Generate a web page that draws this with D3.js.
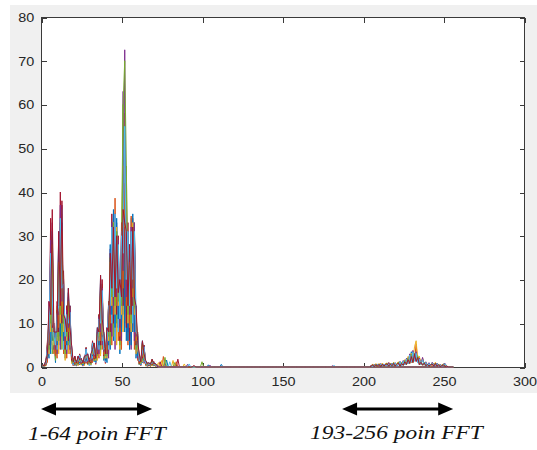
<!DOCTYPE html>
<html>
<head>
<meta charset="utf-8">
<script src="https://cdn.jsdelivr.net/npm/d3@7"></script>
<style>
  html, body { margin: 0; padding: 0; background: #ffffff; }
  svg { display: block; }
</style>
</head>
<body>
<svg id="chart" width="537" height="450"></svg>
<script>
// FFT magnitude of 14 frames, 256 bins each.
const binCount = 256;
const lowStart = 1;    // first bin of the low band arrays
const highStart = 205; // first bin of the high band arrays

// Low band, bins 1..72, one array per frame
const low01 = [0.1,0.4,0.3,4,2,26,6,8,1,12, 5,30,9,20,2,12,4,14,1,1.2, 0.3,1.2,0.4,2.5,0.6,1.2,0.5,3.8,0.7,1.5, 0.4,5,1.2,2.5,2,10,3,17,1.5,4, 1,13,4,32,6,30,9,26,3,28, 12,48,6,30,4,26,8,31,2,7, 0.5,1.8,1,4.5,0.3,0.9,0.2,0.7,0.3,1.1,0.2,0.4];
const low02 = [0.3,0.1,1.2,1,13,4,30,3,7,2, 27,6,35,3,10,2,17,3,4.5,0.3, 2.2,0.2,2.1,0.5,1.8,0.3,2.2,0.8,2.6,0.4, 2.7,1,5,0.6,8,2,18,4,7,0.8, 8,3,25,5,34,8,31,6,18,4, 45,10,40,5,26,7,34,4,12,1.5, 2.5,0.3,5.5,0.8,1.3,0.1,0.9,0.1,1.6,0.2,0.7,0.1];
const low03 = [0.2,0.5,0.2,5,3,20,8,9,2,14, 3,28,7,21,1.5,13,3,12,0.8,1.8, 0.4,1.4,0.3,2.8,0.4,1.4,0.3,4.2,0.5,1.8, 0.5,5.5,1.5,2.8,1.5,11,2.5,19,2,4.5, 2,14,6,30,9,35,5,28,4,25, 8,58,10,31,6,30,12,28,3,7.5, 0.6,1.9,1.2,4.8,0.2,0.8,0.3,0.8,0.2,1.2,0.1,0.5];
const low04 = [0.4,0.2,1.4,2,15,5,33,4,8,3, 30,4,37,5,11,3,16,4,5,0.4, 2.4,0.3,2.4,0.6,1.9,0.2,2.4,1,2.9,0.5, 2.9,1.5,5.3,0.8,8.5,3,20,5,7.5,1, 8.5,2,27,7,33,4,33,9,19,6, 63,15,42,8,27,4,33,6,13,2, 2.8,0.4,5.7,1,1.4,0.2,1,0.2,1.7,0.3,0.8,0.1];
const low05 = [0.1,0.5,0.6,5.5,4,28,3,7,1.5,13, 6,32,4,19,3,14,5,13,1.2,1.9, 0.5,1.5,0.6,2.9,0.5,1.5,0.6,4.4,0.6,1.9, 0.7,5.8,1.4,2.9,2.5,12,4,18,1.8,4.8, 2.5,15,5,33,7,32,10,29,5,30, 60,20,46,12,22,9,27,33,4,8, 0.7,2,1.5,5,0.4,1,0.2,0.8,0.4,1.2,0.2,0.5];
const low06 = [0.3,0.2,1.5,3,14,6,29,5,7.5,4, 28,8,36,4,10,4,17,5,4.8,0.5, 2.3,0.4,2.3,0.7,2,0.4,2.3,1.2,2.8,0.3, 2.8,2,5.4,1,8.8,4,21,6,7.8,1.2, 8.8,4,26,10,35,6,32,8,17,10, 47,55,12,29,8,34,10,30,14,3, 2.9,0.5,5.9,1.2,1.5,0.3,1,0.3,1.8,0.4,0.8,0.2];
const low07 = [0.2,0.6,0.4,6,5,34,9,10,3,15, 8,40,10,22,4,14,6,14,1.5,2, 0.6,1.5,0.8,3,0.7,1.5,0.8,4.5,0.8,2, 0.9,6,1.8,3,3,12,5,20,2.5,5, 3,15,8,35,10,30,12,30,6,33, 14,32,9,33,6,31,14,32,5,8, 0.8,2,2,5,0.5,1,0.3,0.8,0.5,1.2,0.3,0.5];
const low08 = [0.4,0.3,1.3,2.5,12,3,31,6,8,5, 31,7,33,6,9,5,18,6,4,0.8, 2.5,0.5,2.2,0.9,1.7,0.5,2.5,1.5,3,0.7, 3,2.5,5.5,1.2,9,5,19,7,8,1.5, 9,5,28,12,36,9,34,11,20,8, 44,8,38,6,28,5,35,8,14,2.5, 3,0.6,6,1.5,1.4,0.4,0.9,0.3,1.7,0.5,0.7,0.2];
const low09 = [0.2,0.5,0.5,4.5,6,24,12,8,2.5,11, 9,33,12,18,5,12,8,11,2,1.6, 0.8,1.3,1,2.6,0.8,1.3,1,3.9,1,1.7, 1.2,5.2,2,2.7,3.5,10.5,6,18,2.8,4.2, 4,14,10,31,12,38.6,14,27,7,26, 18,42,14,28,9,34.5,16,29,6,7, 1,1.8,2.5,4.4,0.6,0.9,0.4,0.7,0.6,1,0.3,0.4];
const low10 = [0.3,0.4,1.1,3.5,11,8,27,5,6.5,6, 24,10,30,8,9.5,6,15,7,4.2,1, 2.1,0.6,2,1.2,1.6,0.7,2.1,2,2.6,0.8, 2.6,3,5,1.5,7,6,17,8,6.6,2, 8,6,24,14,33,12,32,14,18,12, 46,45,38,10,24,8,33,12,12,4, 2.3,0.8,5.4,2,1.2,0.5,0.9,0.4,1.7,0.6,0.6,0.3];
const low11 = [0.2,0.5,0.7,5,8,29,14,9,4,12, 12,37,15,20,6,13,9,13,2.5,1.8, 1,1.4,1.2,2.7,1,1.4,1.2,4.2,1.2,1.8, 1.5,5.6,2.5,2.8,4,11.5,8,18,3.5,4.6, 5,14,12,33,14,35,16,29,9,31, 22,72.5,16,31,12,32,18,33,7,7.6, 1.2,1.8,3,4.8,0.7,0.9,0.5,0.7,0.8,1.2,0.4,0.5];
const low12 = [0.4,0.2,1.2,3,12,10,28,6,6.2,7, 24,12,31,10,9.5,7,15,8,4,1.1, 2,0.8,2.1,1.4,1.7,0.8,2.2,2.4,2.5,1, 2.6,3.5,5.4,1.8,7.6,7,18,10,6.9,2.5, 8.2,7,25,16,33,14,31,15,17,14, 60,70,46,12,23,10,32,14,12.5,5, 2.5,1,5.3,2.5,1.3,0.6,0.9,0.5,1.6,0.7,0.7,0.3];
const low13 = [0.2,0.5,0.8,4.6,9,26,16,7,5,12, 14,34,18,19,7,12,10,12.5,3,1.7, 1.2,1.3,1.4,2.7,1.2,1.4,1.4,4.1,1.5,1.7, 1.8,5.4,3,2.7,5,11,10,17.5,4,4.5, 6,14,14,32,16,35,18,28,11,30, 26,55,20,31,14,31,20,31,8,7.4, 1.4,1.7,3.5,4.6,0.8,0.9,0.6,0.7,0.9,1.1,0.4,0.4];
const low14 = [0.4,0.3,1.5,3,15,12,36,8,8,8, 31,14,38,12,11,8,18,9,5,1.2, 2.5,0.9,2.5,1.6,2,0.9,2.5,2.6,3,1.1, 3,4,5.5,2,9,8,21,11,8,3, 9,8,26,18,32,16,30,17,20,16, 36,33,31,14,28,12,32,16,14,6, 3,1.2,6,3,1.5,0.7,1,0.6,1.8,0.8,0.8,0.3];

// High band, bins 205..252 (frames 8..14 only)
const high08 = [0.1,0.5,0.1,0.6,0.2,0.7,0.1,0.6,0.2,0.5, 0.8,0.2,0.7,0.1,0.9,0.3,0.6,1.0,0.2,0.9, 0.4,1.4,0.6,2.0,0.9,3.5,1.2,3.0,1.5,2.4, 0.6,1.2,0.5,1.0,0.3,0.6,0.2,0.5,0.8,0.2, 0.9,0.3,0.5,0.1,0.3,0.5,0.1,0.2];
const high09 = [0.4,0.1,0.5,0.2,0.4,0.2,0.6,0.3,0.5,0.2, 0.3,1.0,0.3,0.7,0.2,0.8,0.2,0.5,1.1,0.3, 1.3,0.5,1.8,0.7,2.8,1.0,3.6,1.5,5.2,1.2, 2.2,0.5,2.0,0.4,1.0,0.3,0.9,0.2,0.3,0.8, 0.2,0.8,0.2,0.5,0.1,0.6,0.7,0.1];
const high10 = [0.2,0.7,0.2,0.8,0.3,0.8,0.2,0.9,0.3,0.8, 0.9,0.3,0.9,0.2,1.1,0.4,0.8,1.2,0.3,1.1, 0.5,1.7,0.8,2.4,1.1,3.2,1.4,4.6,6.0,1.6, 2.5,0.6,1.9,0.5,1.1,0.3,0.9,0.2,0.9,0.3, 1.1,0.3,0.7,0.2,0.5,0.7,0.2,0.3];
const high11 = [0.3,0.2,0.6,0.3,0.7,0.2,0.8,0.2,0.7,0.3, 0.4,1.0,0.3,0.9,0.3,1.0,0.2,0.6,1.3,0.4, 1.5,0.6,2.0,0.8,3.0,1.2,3.8,1.6,3.5,1.1, 2.0,0.7,2.2,0.5,1.2,0.3,1.0,0.3,1.1,0.4, 0.3,0.9,0.2,0.6,0.1,0.7,0.8,0.1];
const high12 = [0.1,0.5,0.2,0.6,0.1,0.7,0.3,0.7,0.1,0.7, 0.8,0.2,0.8,0.3,1.0,0.2,0.7,1.1,0.2,1.0, 0.4,1.5,0.5,2.1,0.8,2.9,1.0,3.2,1.4,2.6, 0.6,1.3,0.4,1.1,0.3,0.7,0.2,0.6,0.9,0.3, 0.9,0.2,0.6,0.2,0.4,0.6,0.1,0.2];
const high13 = [0.3,0.1,0.5,0.2,0.6,0.3,0.7,0.2,0.6,0.3, 0.3,0.7,0.2,0.8,0.3,0.9,0.2,0.4,1.2,0.3, 1.3,0.5,1.8,0.7,2.7,1.1,3.5,1.3,3.1,0.9, 1.8,0.5,1.7,0.4,1.0,0.2,0.8,0.3,0.9,0.4, 0.3,0.8,0.2,0.5,0.1,0.6,0.7,0.1];
const high14 = [0.2,0.5,0.1,0.5,0.2,0.6,0.1,0.6,0.2,0.6, 0.7,0.2,0.7,0.3,0.8,0.2,0.6,0.9,0.2,0.8, 0.4,1.2,0.6,1.7,0.8,2.4,1.0,3.0,1.2,2.2, 0.5,1.1,0.4,0.9,0.3,0.6,0.2,0.5,0.7,0.2, 0.8,0.2,0.5,0.1,0.3,0.5,0.1,0.2];

// Small isolated peaks between the bands: [frame, bin, magnitude]
const midPeaks = [
  [2,75,1.5],[1,76,2.4],[4,77,2.2],[0,78,1.6],[6,74,1.2],[9,73,1.0],
  [5,80,1.2],[2,82,1.5],[8,84,1.2],[6,85,1.8],[11,83,1.0],
  [9,89,0.7],[10,91,0.6],[12,92,0.7],[13,95,0.4],[11,100,1.2],
  [0,104,0.5],[3,105,0.4],[7,112,0.6],[3,181,0.3],[5,182,0.4]
];

const xTicks = [0, 50, 100, 150, 200, 250, 300];
const yTicks = [0, 10, 20, 30, 40, 50, 60, 70, 80];
const bandLabels = ["1-64 poin FFT", "193-256 poin FFT"];
const bandSpans = [[0, 69], [187, 256]];

const lowBands = [low01, low02, low03, low04, low05, low06, low07, low08, low09, low10, low11, low12, low13, low14];
const highBands = [null, null, null, null, null, null, null, high08, high09, high10, high11, high12, high13, high14];

// MATLAB default line color order
const lineColors = ["#0072BD", "#D95319", "#EDB120", "#7E2F8E", "#77AC30", "#4DBEEE", "#A2142F"];

// Assemble full 256-bin spectra
const frames = lowBands.map((low, f) => {
  const mags = new Array(binCount).fill(0);
  low.forEach((v, i) => { mags[lowStart - 1 + i] = v; });
  if (highBands[f]) highBands[f].forEach((v, i) => { mags[highStart - 1 + i] = v; });
  midPeaks.filter(p => p[0] === f).forEach(p => { mags[p[1] - 1] = p[2]; });
  return mags.map((v, i) => ({ bin: i + 1, mag: v }));
});

const svg = d3.select("#chart");
const plot = { left: 41, right: 524, top: 17, bottom: 367 };

const x = d3.scaleLinear().domain([0, 300]).range([plot.left, plot.right]);
const y = d3.scaleLinear().domain([0, 80]).range([plot.bottom, plot.top]);

// figure background
svg.append("rect")
  .attr("x", 10).attr("y", 5).attr("width", 527).attr("height", 388)
  .attr("fill", "#f0f0f0");

// axes background
svg.append("rect")
  .attr("x", plot.left).attr("y", plot.top)
  .attr("width", plot.right - plot.left).attr("height", plot.bottom - plot.top)
  .attr("fill", "#ffffff");

const axisColor = "#3a3a3a";
const labelFont = "'Liberation Sans', Arial, Helvetica, sans-serif";

svg.append("rect")
  .attr("x", plot.left + 0.5).attr("y", plot.top + 0.5)
  .attr("width", plot.right - plot.left).attr("height", plot.bottom - plot.top)
  .attr("fill", "none").attr("stroke", axisColor).attr("stroke-width", 1)
  .attr("shape-rendering", "crispEdges");

// inward ticks on all four sides
const tickLen = 5;
function styleAxis(g) {
  g.select(".domain").remove();
  g.selectAll(".tick line").attr("stroke", axisColor).attr("shape-rendering", "crispEdges");
  g.selectAll(".tick text")
    .attr("fill", "#262626")
    .attr("font-family", labelFont)
    .attr("font-size", 12);
}

svg.append("g")
  .attr("transform", `translate(0.5,${plot.bottom + 0.5})`)
  .call(d3.axisBottom(x).tickValues(xTicks).tickSizeInner(-tickLen).tickSizeOuter(0).tickPadding(10).tickFormat(d3.format("d")))
  .call(styleAxis)
  .call(g => g.selectAll(".tick text").attr("transform", "scale(1.2,1)"));

svg.append("g")
  .attr("transform", `translate(0.5,${plot.top + 0.5})`)
  .call(d3.axisTop(x).tickValues(xTicks).tickSizeInner(-tickLen).tickSizeOuter(0).tickFormat(""))
  .call(styleAxis);

svg.append("g")
  .attr("transform", `translate(${plot.left + 0.5},0.5)`)
  .call(d3.axisLeft(y).tickValues(yTicks).tickSizeInner(-tickLen).tickSizeOuter(0).tickPadding(6).tickFormat(d3.format("d")))
  .call(styleAxis)
  .call(g => g.selectAll(".tick text").attr("transform", "scale(1.2,1)"));

svg.append("g")
  .attr("transform", `translate(${plot.right + 0.5},0.5)`)
  .call(d3.axisRight(y).tickValues(yTicks).tickSizeInner(-tickLen).tickSizeOuter(0).tickFormat(""))
  .call(styleAxis);

// spectra
svg.append("clipPath").attr("id", "plotClip")
  .append("rect")
  .attr("x", plot.left).attr("y", plot.top)
  .attr("width", plot.right - plot.left).attr("height", plot.bottom - plot.top + 1.5);

const line = d3.line().x(d => x(d.bin)).y(d => y(d.mag));

svg.append("g").attr("clip-path", "url(#plotClip)")
  .selectAll("path")
  .data(frames)
  .join("path")
  .attr("d", line)
  .attr("fill", "none")
  .attr("stroke", (d, i) => lineColors[i % lineColors.length])
  .attr("stroke-width", 1)
  .attr("stroke-linejoin", "miter");

// band annotations below the figure
const arrowY = 409;
const headLen = 15, headHalf = 6.5;
const ann = svg.append("g");
bandSpans.forEach((span, i) => {
  const x1 = x(span[0]), x2 = x(span[1]);
  ann.append("line")
    .attr("x1", x1 + headLen - 1).attr("x2", x2 - headLen + 1)
    .attr("y1", arrowY).attr("y2", arrowY)
    .attr("stroke", "#000").attr("stroke-width", 3);
  ann.append("path")
    .attr("d", `M${x1},${arrowY} L${x1 + headLen},${arrowY - headHalf} L${x1 + headLen},${arrowY + headHalf} Z`)
    .attr("fill", "#000");
  ann.append("path")
    .attr("d", `M${x2},${arrowY} L${x2 - headLen},${arrowY - headHalf} L${x2 - headLen},${arrowY + headHalf} Z`)
    .attr("fill", "#000");
  const tx = i === 0 ? x1 - 13 : x1 - 32;
  ann.append("text")
    .attr("transform", `translate(${tx},${440 - i}) scale(1.2,1)`)
    .attr("font-family", "'Liberation Serif', 'Times New Roman', serif")
    .attr("font-style", "italic")
    .attr("font-size", 19.5)
    .attr("fill", "#111")
    .text(bandLabels[i]);
});
</script>
</body>
</html>
